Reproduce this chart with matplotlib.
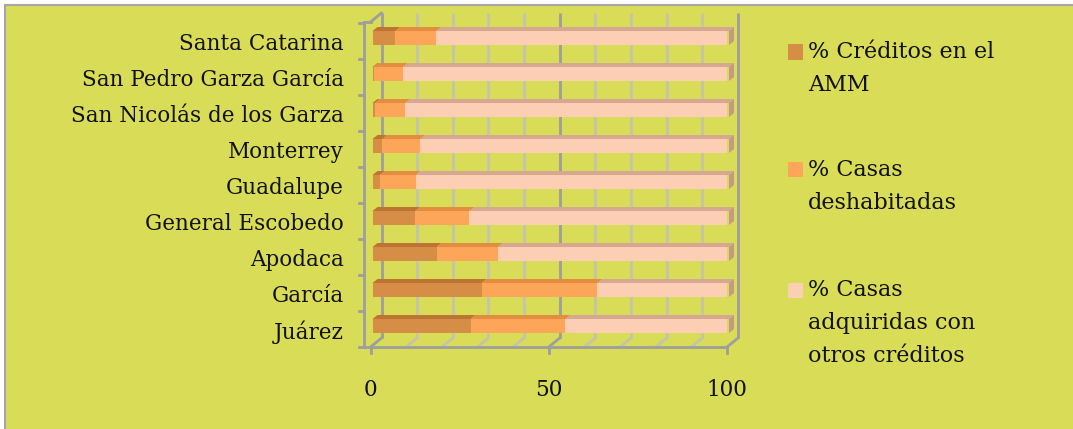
import numpy as np
import matplotlib
matplotlib.use("Agg")
from matplotlib import pyplot as plt
from matplotlib.patches import Rectangle, Polygon

municipios = ["Juárez", "García", "Apodaca", "General Escobedo", "Guadalupe",
              "Monterrey", "San Nicolás de los Garza", "San Pedro Garza García",
              "Santa Catarina"]
creditos_amm = [27.5, 30.6, 18.0, 12.0, 2.0, 2.7, 0.7, 0.4, 6.4]
deshabitadas = [26.6, 32.5, 17.2, 15.2, 10.1, 10.6, 8.5, 8.1, 11.5]
otros = [100 - a - b for a, b in zip(creditos_amm, deshabitadas)]
series_names = ["% Créditos en el\nAMM", "% Casas\ndeshabitadas",
                "% Casas\nadquiridas con\notros créditos"]
x_ticks = [0, 50, 100]

front_cols = ["#D68D46", "#FDA65A", "#FCCEB4"]
top_cols = ["#BE7431", "#E38D40", "#D6A892"]
side_col = "#C39A86"
bg = "#D9DC57"
font = "DejaVu Serif"
fs = 15.5

W, H = 1073, 429
fig = plt.figure(figsize=(W / 100, H / 100), dpi=100)
fig.patch.set_facecolor("white")
fig.add_artist(Rectangle((5 / W, -0.1), 1.2, 1 - 5 / H + 0.1, transform=fig.transFigure,
                         facecolor=bg, edgecolor="#A6A6A6", linewidth=1.5, zorder=-5))

# axes = front plane of the 3d box
x_left, x_right, y_bot, y_top = 370.5, 727, 347, 22
ax = fig.add_axes([x_left / W, (H - y_bot) / H, (x_right - x_left) / W, (y_bot - y_top) / H])
ax.set_facecolor("none")
y0 = -0.583
y1 = y0 + (y_bot - y_top) / 36
ax.set_xlim(0, 100)
ax.set_ylim(y0, y1)
ax.axis("off")

sx = 100 / (x_right - x_left)   # data units per pixel
sy = 1 / 36
DX, DY = 11, 9                   # depth offset (px)

# back wall and floor grid
for v in range(0, 101, 10):
    col = "#9E9E9E" if v % 50 == 0 else "#C4C4AE"
    ax.plot([v + DX * sx] * 2, [y0 + DY * sy, y1 + DY * sy], color=col, lw=2, zorder=1,
            clip_on=False, solid_capstyle="butt")
    ax.plot([v, v + DX * sx], [y0, y0 + DY * sy], color=col, lw=2, zorder=1, clip_on=False)
# left wall top edge
ax.plot([0, DX * sx], [y1, y1 + DY * sy], color="#9E9E9E", lw=2, zorder=1, clip_on=False)

# front axes
ax.plot([-8 * sx, 100], [y0, y0], color="#9E9E9E", lw=2, zorder=2, clip_on=False)
for v in x_ticks:
    ax.plot([v, v], [y0, y0 - 6 * sy], color="#9E9E9E", lw=2, zorder=2, clip_on=False)
    ax.text(v, y0 - 43 * sy, str(v), ha="center", va="center", fontsize=fs,
            family=font, color="#111111")
ax.plot([-7 * sx] * 2, [y0, y1], color="#9E9E9E", lw=2, zorder=2, clip_on=False)
for k in list(np.arange(len(municipios)) + 0.42) + [y0]:
    ax.plot([-12 * sx, -7 * sx], [k, k], color="#9E9E9E", lw=2, zorder=2, clip_on=False)
ax.plot([-7 * sx, 0], [y1, y1], color="#9E9E9E", lw=2, zorder=2, clip_on=False)

# bars
ypos = np.arange(len(municipios))
bh = 14 * sy
ox, oy = 5 * sx, 4 * sy
shift = 2 * sx
lefts = np.zeros(len(municipios))
for vals, fc, tc in zip([creditos_amm, deshabitadas, otros], front_cols, top_cols):
    vals = np.array(vals)
    ax.barh(ypos, vals, left=lefts + shift, height=bh, color=fc, linewidth=0, zorder=3)
    for y, l, w in zip(ypos, lefts + shift, vals):
        t = y + bh / 2
        ax.add_patch(Polygon([(l, t), (l + w, t), (l + w + ox, t + oy), (l + ox, t + oy)],
                             closed=True, facecolor=tc, linewidth=0, zorder=3, clip_on=False))
    lefts = lefts + vals
for y, r in zip(ypos, lefts + shift):
    b, t = y - bh / 2, y + bh / 2
    ax.add_patch(Polygon([(r, b), (r, t), (r + ox, t + oy), (r + ox, b + oy)],
                         closed=True, facecolor=side_col, linewidth=0, zorder=3, clip_on=False))

# category labels
for y, name in zip(ypos, municipios):
    ax.text(-26.5 * sx, y - 6 * sy, name, ha="right", va="center", fontsize=fs,
            family=font, color="#111111")

# legend
leg_y = [52, 170, 290]
for name, fc, yc in zip(series_names, front_cols, leg_y):
    fig.add_artist(Rectangle((788 / W, 1 - (yc + 7.5) / H), 15 / W, 15 / H,
                             transform=fig.transFigure, facecolor=fc, linewidth=0))
    for i, line in enumerate(name.split("\n")):
        fig.text(808 / W, 1 - (yc + 33 * i) / H, line, ha="left", va="center",
                 fontsize=16, family=font, color="#111111")

fig.savefig("out.png", dpi=100, facecolor=fig.get_facecolor())
